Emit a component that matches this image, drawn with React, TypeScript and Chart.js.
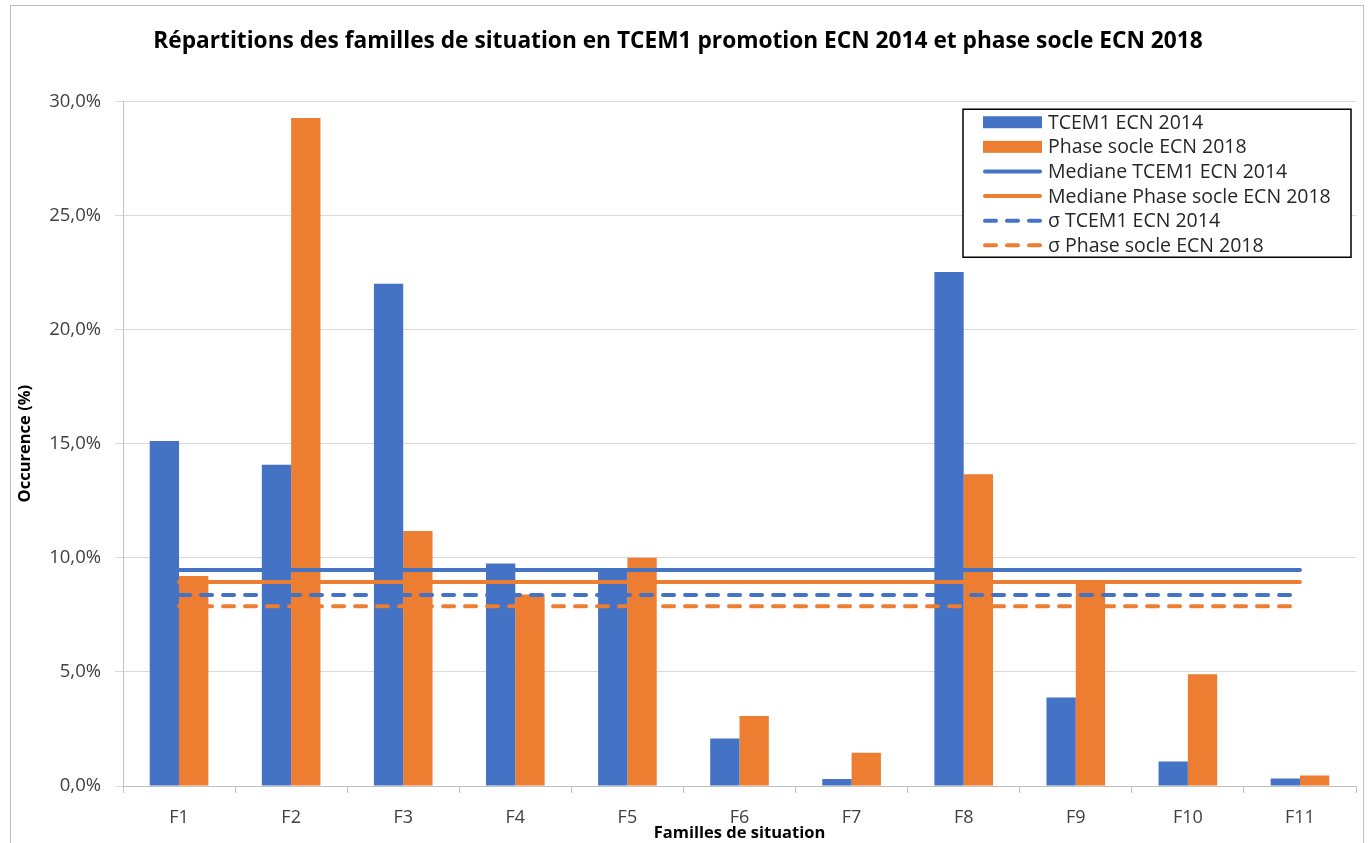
import React, { useEffect, useRef } from "react";
import { Chart, registerables } from "chart.js";

Chart.register(...registerables);

const categories = ["F1", "F2", "F3", "F4", "F5", "F6", "F7", "F8", "F9", "F10", "F11"];
const tcem1Values = [15.12, 14.07, 22.0, 9.75, 9.55, 2.08, 0.31, 22.52, 3.88, 1.07, 0.33];
const phaseSocleValues = [9.2, 29.27, 11.17, 8.39, 10.0, 3.07, 1.46, 13.66, 8.95, 4.9, 0.46];
const medianeTcem1 = [9.46, 9.46, 9.46, 9.46, 9.46, 9.46, 9.46, 9.46, 9.46, 9.46, 9.46];
const medianePhaseSocle = [8.94, 8.94, 8.94, 8.94, 8.94, 8.94, 8.94, 8.94, 8.94, 8.94, 8.94];
const sigmaTcem1 = [8.37, 8.37, 8.37, 8.37, 8.37, 8.37, 8.37, 8.37, 8.37, 8.37, 8.37];
const sigmaPhaseSocle = [7.88, 7.88, 7.88, 7.88, 7.88, 7.88, 7.88, 7.88, 7.88, 7.88, 7.88];
const seriesLabels = [
  "TCEM1 ECN 2014",
  "Phase socle ECN 2018",
  "Mediane TCEM1 ECN 2014",
  "Mediane Phase socle ECN 2018",
  "σ TCEM1 ECN 2014",
  "σ Phase socle ECN 2018",
];
const yMin = 0;
const yMax = 30;
const yStep = 5;

const BLUE = "#4472C4";
const ORANGE = "#ED7D31";
const FONT = "'Open Sans', Lato, sans-serif";

const legendBoxPlugin = {
  id: "legendBox",
  afterDraw(chart: any) {
    const { ctx, chartArea } = chart;
    const right = chartArea.right - 5;
    const top = chartArea.top + 8;
    const width = 388;
    const height = 148;
    const left = right - width;
    ctx.save();
    ctx.fillStyle = "#ffffff";
    ctx.fillRect(left, top, width, height);
    ctx.strokeStyle = "#000000";
    ctx.lineWidth = 1.5;
    ctx.strokeRect(left, top, width, height);
    const symX = left + 20;
    const symW = 59;
    const textX = left + 85;
    ctx.font = "19.5px " + FONT;
    ctx.textBaseline = "middle";
    ctx.textAlign = "left";
    chart.data.datasets.forEach((ds: any, i: number) => {
      const cy = top + 13 + i * 24.6;
      if (ds.type === "bar") {
        ctx.fillStyle = ds.backgroundColor;
        ctx.fillRect(symX, cy - 6, symW, 12);
      } else {
        ctx.strokeStyle = ds.borderColor;
        ctx.lineWidth = 4;
        ctx.lineCap = "round";
        ctx.setLineDash(ds.borderDash && ds.borderDash.length ? [11, 11] : []);
        ctx.beginPath();
        ctx.moveTo(symX + 2, cy);
        ctx.lineTo(symX + symW - 2, cy);
        ctx.stroke();
        ctx.setLineDash([]);
      }
      ctx.fillStyle = "#262626";
      ctx.fillText(ds.label, textX, cy + 1);
    });
    ctx.restore();
  },
};

export default function App() {
  const canvasRef = useRef<HTMLCanvasElement | null>(null);

  useEffect(() => {
    if (!canvasRef.current) return;
    const lineDs = (label: string, data: number[], color: string, dashed: boolean) => ({
      type: "line" as const,
      label,
      data,
      borderColor: color,
      backgroundColor: color,
      borderWidth: 4,
      borderCapStyle: "round" as const,
      borderDash: dashed ? [11, 11] : [],
      pointRadius: 0,
      pointHoverRadius: 0,
      fill: false,
      order: 1,
    });
    const chart = new Chart(canvasRef.current, {
      type: "bar",
      data: {
        labels: categories,
        datasets: [
          {
            type: "bar",
            label: seriesLabels[0],
            data: tcem1Values,
            backgroundColor: BLUE,
            categoryPercentage: 0.523,
            barPercentage: 1.0,
            order: 2,
          },
          {
            type: "bar",
            label: seriesLabels[1],
            data: phaseSocleValues,
            backgroundColor: ORANGE,
            categoryPercentage: 0.523,
            barPercentage: 1.0,
            order: 2,
          },
          lineDs(seriesLabels[2], medianeTcem1, BLUE, false),
          lineDs(seriesLabels[3], medianePhaseSocle, ORANGE, false),
          lineDs(seriesLabels[4], sigmaTcem1, BLUE, true),
          lineDs(seriesLabels[5], sigmaPhaseSocle, ORANGE, true),
        ] as any,
      },
      options: {
        animation: false,
        responsive: false,
        devicePixelRatio: 1,
        layout: { padding: { left: 0, right: 13, top: 0, bottom: 0 } },
        plugins: {
          legend: { display: false },
          tooltip: { enabled: false },
          title: {
            display: true,
            text: "Répartitions des familles de situation en TCEM1 promotion ECN 2014 et phase socle ECN 2018",
            color: "#000000",
            font: { family: FONT, size: 22.7, weight: "bold" },
            padding: { top: 28, bottom: 46 },
          },
        },
        scales: {
          x: {
            offset: true,
            grid: {
              display: true,
              drawOnChartArea: false,
              drawTicks: true,
              tickLength: 7,
              color: "#bfbfbf",
              offset: true,
            },
            border: { display: true, color: "#bfbfbf" },
            ticks: {
              color: "#404040",
              font: { family: FONT, size: 18 },
              padding: 14,
              maxRotation: 0,
            },
            title: {
              display: true,
              text: "Familles de situation",
              color: "#000000",
              font: { family: FONT, size: 16.5, weight: "bold" },
              padding: { top: 0, bottom: 0 },
            },
            afterFit: (scale: any) => {
              scale.height = 57;
            },
          },
          y: {
            min: yMin,
            max: yMax,
            grid: {
              color: "#d9d9d9",
              tickLength: 8,
              drawTicks: true,
            },
            border: { display: true, color: "#bfbfbf" },
            ticks: {
              stepSize: yStep,
              color: "#404040",
              font: { family: FONT, size: 18.5 },
              padding: 14,
              callback: (v: any) => Number(v).toFixed(1).replace(".", ",") + "%",
            },
            title: {
              display: true,
              text: "Occurence (%)",
              color: "#000000",
              font: { family: FONT, size: 16.5, weight: "bold" },
              padding: { top: 15, bottom: 0 },
            },
            afterFit: (scale: any) => {
              scale.width = 123;
            },
          },
        },
      },
      plugins: [legendBoxPlugin],
    });
    return () => chart.destroy();
  }, []);

  return (
    <div style={{ position: "absolute", left: 0, top: 0, width: 1369, height: 843, overflow: "hidden", background: "#fff" }}>
      <canvas ref={canvasRef} width={1369} height={843} style={{ display: "block", position: "absolute", left: 0, top: 0 }} />
      <div
        style={{
          position: "absolute",
          left: 10,
          top: 5,
          width: 1352,
          height: 860,
          borderLeft: "1px solid #bfbfbf",
          borderTop: "1px solid #bfbfbf",
          borderRight: "1px solid #bfbfbf",
          pointerEvents: "none",
        }}
      />
    </div>
  );
}
